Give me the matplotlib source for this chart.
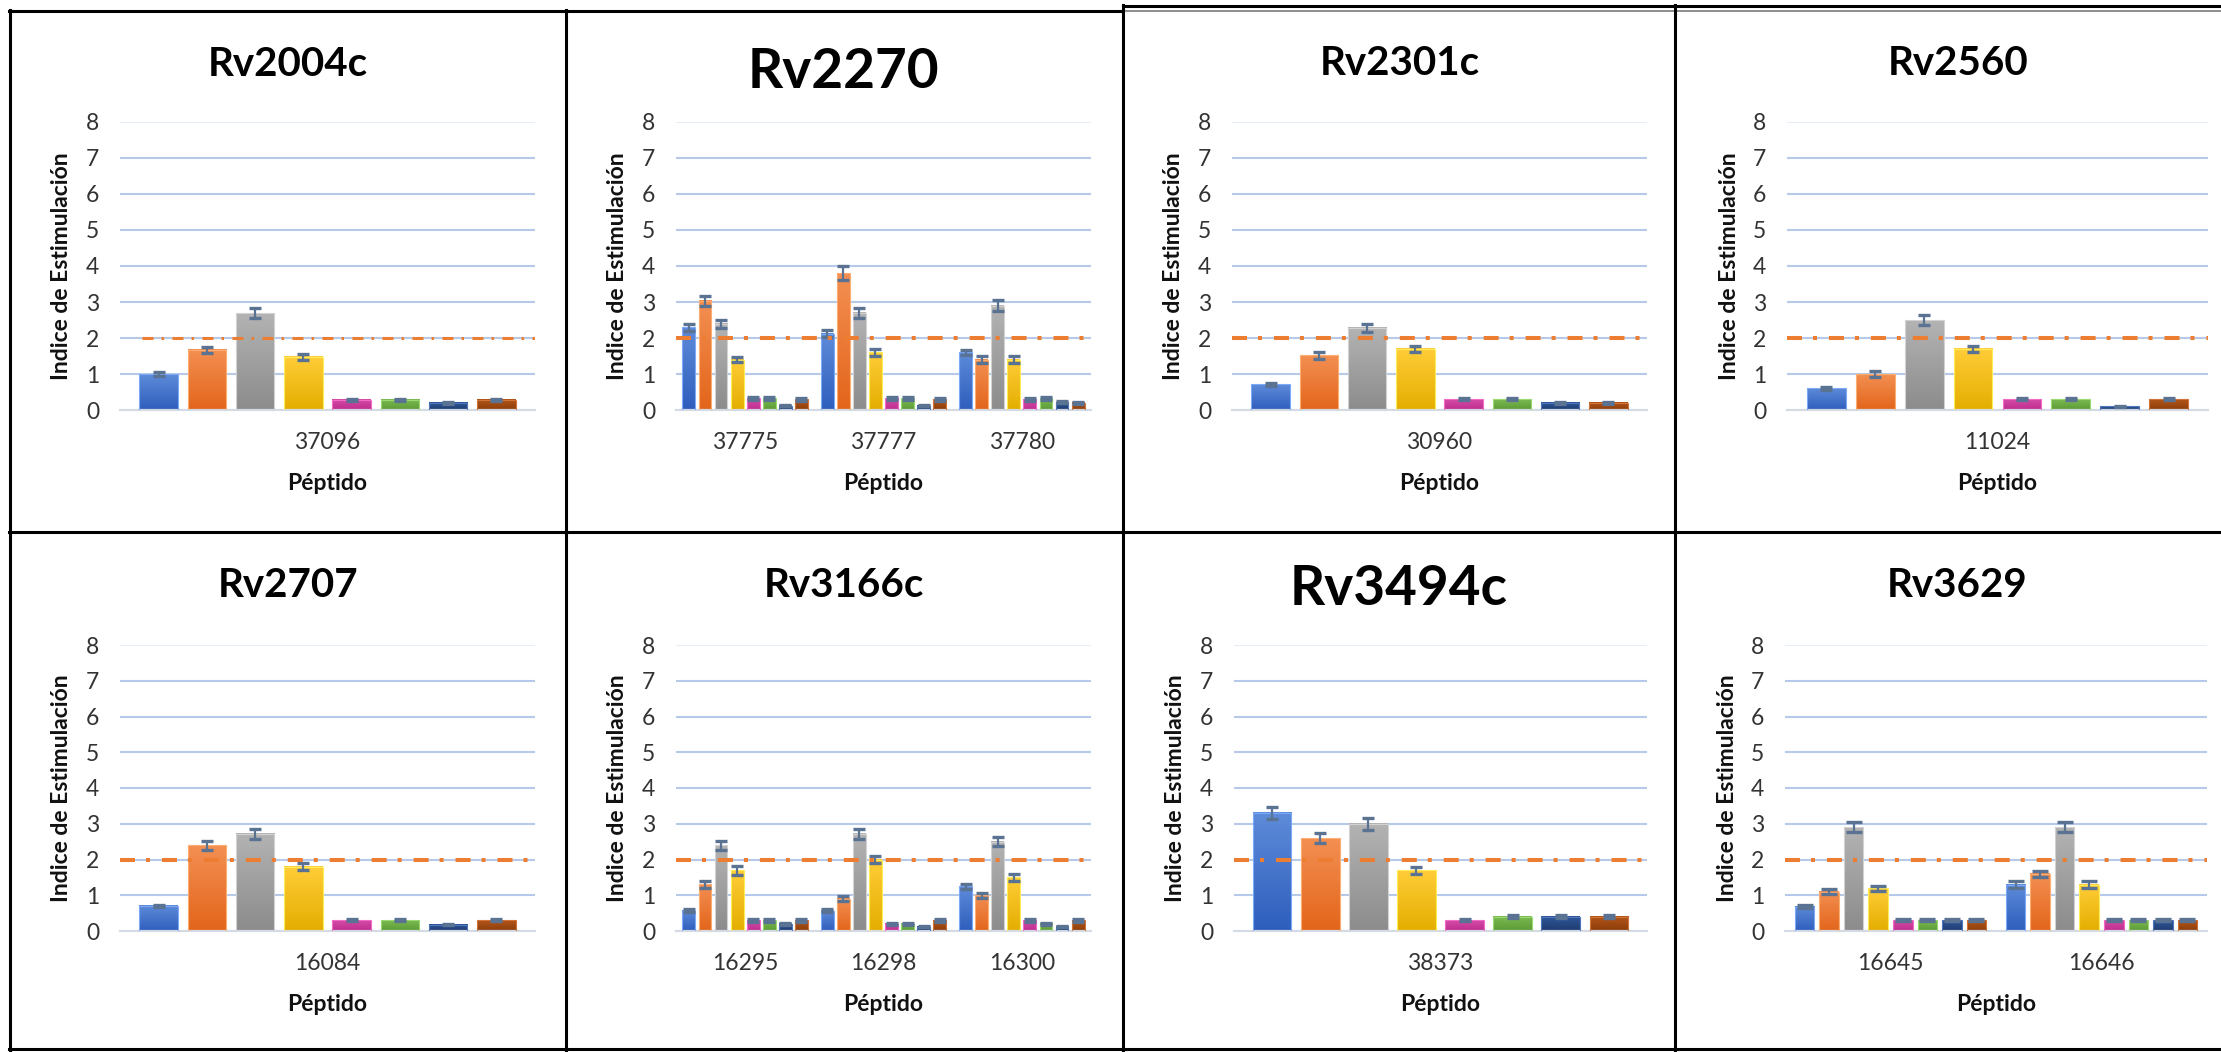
import numpy as np
import matplotlib
matplotlib.use("Agg")
import matplotlib.pyplot as plt
from matplotlib.colors import to_rgb
from matplotlib.lines import Line2D

plt.rcParams['font.family'] = ['Lato', 'DejaVu Sans']
plt.rcParams['lines.scale_dashes'] = False

W, H = 2221, 1052
DPI = 100

# ---- data: stimulation index (mean and error) per peptide, 8 groups each ----
titles = ["Rv2004c", "Rv2270", "Rv2301c", "Rv2560",
          "Rv2707", "Rv3166c", "Rv3494c", "Rv3629"]

rv2004c_pep = ["37096"]
rv2004c_si = [[1.00, 1.67, 2.69, 1.48, 0.28, 0.28, 0.20, 0.28]]
rv2004c_err = [[0.05, 0.08, 0.14, 0.08, 0.03, 0.03, 0.02, 0.03]]

rv2270_pep = ["37775", "37777", "37780"]
rv2270_si = [[2.30, 3.03, 2.40, 1.40, 0.32, 0.32, 0.12, 0.30],
             [2.12, 3.80, 2.70, 1.60, 0.32, 0.32, 0.12, 0.30],
             [1.60, 1.40, 2.90, 1.40, 0.30, 0.32, 0.22, 0.20]]
rv2270_err = [[0.10, 0.15, 0.11, 0.08, 0.04, 0.04, 0.02, 0.04],
              [0.10, 0.19, 0.14, 0.10, 0.04, 0.04, 0.02, 0.04],
              [0.08, 0.09, 0.16, 0.09, 0.04, 0.04, 0.03, 0.03]]

rv2301c_pep = ["30960"]
rv2301c_si = [[0.72, 1.52, 2.28, 1.70, 0.30, 0.30, 0.20, 0.20]]
rv2301c_err = [[0.04, 0.09, 0.11, 0.08, 0.03, 0.03, 0.02, 0.03]]

rv2560_pep = ["11024"]
rv2560_si = [[0.60, 1.00, 2.50, 1.70, 0.30, 0.30, 0.10, 0.30]]
rv2560_err = [[0.04, 0.07, 0.14, 0.08, 0.03, 0.03, 0.02, 0.03]]

rv2707_pep = ["16084"]
rv2707_si = [[0.70, 2.40, 2.72, 1.80, 0.30, 0.30, 0.18, 0.30]]
rv2707_err = [[0.04, 0.13, 0.14, 0.10, 0.03, 0.03, 0.02, 0.03]]

rv3166c_pep = ["16295", "16298", "16300"]
rv3166c_si = [[0.57, 1.31, 2.40, 1.70, 0.30, 0.30, 0.20, 0.30],
              [0.57, 0.90, 2.72, 2.00, 0.20, 0.20, 0.12, 0.30],
              [1.25, 1.00, 2.50, 1.50, 0.30, 0.20, 0.12, 0.30]]
rv3166c_err = [[0.04, 0.10, 0.13, 0.12, 0.04, 0.04, 0.02, 0.04],
               [0.04, 0.07, 0.14, 0.11, 0.03, 0.03, 0.02, 0.04],
               [0.07, 0.07, 0.12, 0.10, 0.04, 0.03, 0.02, 0.04]]

rv3494c_pep = ["38373"]
rv3494c_si = [[3.31, 2.60, 3.00, 1.70, 0.30, 0.40, 0.40, 0.40]]
rv3494c_err = [[0.17, 0.14, 0.17, 0.10, 0.03, 0.04, 0.04, 0.04]]

rv3629_pep = ["16645", "16646"]
rv3629_si = [[0.68, 1.10, 2.90, 1.20, 0.30, 0.30, 0.30, 0.30],
             [1.30, 1.60, 2.90, 1.30, 0.30, 0.30, 0.30, 0.30]]
rv3629_err = [[0.04, 0.07, 0.14, 0.07, 0.03, 0.03, 0.03, 0.03],
              [0.09, 0.09, 0.14, 0.09, 0.03, 0.03, 0.03, 0.03]]

y_ticks = [0, 1, 2, 3, 4, 5, 6, 7, 8]
threshold = 2.0

# ---- styling ----
# gradient fills per group: (top colour, bottom colour)
grad_colors = [("#5e8bd9", "#2e5ebd"),
               ("#f38f52", "#e3651b"),
               ("#b3b3b3", "#8c8c8c"),
               ("#ffcd38", "#e4ae00"),
               ("#d44ba8", "#bf2d8d"),
               ("#7cbb52", "#5b9a35"),
               ("#30589c", "#1e3b6e"),
               ("#b2551a", "#8d3d0a")]
ERR_C = "#5a7393"
GRID_C = "#b7c9e8"
THR_C = "#ED7D31"
TICK_C = "#333333"
PITCH = 0.1163
BARW = 0.0925


def frac_rect(l, top, r, bottom):
    return [l / W, 1 - bottom / H, (r - l) / W, (bottom - top) / H]


def gradient(top, bottom, n=64):
    t = np.linspace(0, 1, n)[:, None]
    c0 = np.array(to_rgb(top))
    c1 = np.array(to_rgb(bottom))
    return (c0 * (1 - t) + c1 * t)[:, None, :]


grads = [gradient(a, b) for a, b in grad_colors]
edges = [tuple(min(1, v + 0.12) for v in to_rgb(a)) for a, _ in grad_colors]

fig = plt.figure(figsize=(W / DPI, H / DPI), dpi=DPI)
fig.patch.set_facecolor("white")

# panel layout in pixels: axes (left, top, right, bottom), title centre x,
# title baseline y, title size, threshold line start, dash pattern, line width, cap size
panels = [
    (rv2004c_pep, rv2004c_si, rv2004c_err, (120, 122, 535, 410), 288, 76, 29, 0.052, (7.9, 5.8, 1.8, 6.1), 2.2, 4.5),
    (rv2270_pep, rv2270_si, rv2270_err, (676, 122, 1091, 410), 843, 88, 39.5, 0.0, (10.8, 7.9, 2.9, 8.6), 2.9, 4.5),
    (rv2301c_pep, rv2301c_si, rv2301c_err, (1232, 122, 1647, 410), 1400, 75, 29, 0.0, (10.8, 7.9, 2.9, 8.6), 2.9, 4.5),
    (rv2560_pep, rv2560_si, rv2560_err, (1787, 122, 2208, 410), 1958, 75, 29, 0.0, (10.8, 7.9, 2.9, 8.6), 2.9, 4.5),
    (rv2707_pep, rv2707_si, rv2707_err, (120, 645, 535, 931), 288, 597, 29, 0.0, (10.8, 7.9, 2.9, 8.6), 2.9, 4.5),
    (rv3166c_pep, rv3166c_si, rv3166c_err, (676, 645, 1091, 931), 844, 597, 29, 0.0, (10.8, 7.9, 2.9, 8.6), 2.9, 4.5),
    (rv3494c_pep, rv3494c_si, rv3494c_err, (1234, 645, 1647, 931), 1399, 605, 39.5, 0.0, (10.8, 7.9, 2.9, 8.6), 2.9, 4.5),
    (rv3629_pep, rv3629_si, rv3629_err, (1785, 645, 2207, 931), 1957, 597, 29, 0.0, (10.8, 7.9, 2.9, 8.6), 2.9, 6.0),
]

for title, (peps, si, err, (l, t, r, b), tcx, tby, tsize, thr_start, dash, thr_lw, cap) in zip(titles, panels):
    ax = fig.add_axes(frac_rect(l, t, r, b))
    axw, axh = r - l, b - t
    n = len(peps)
    xs = np.arange(n)
    offsets = (np.arange(8) - 3.5) * PITCH

    for j in range(8):
        vals = [row[j] for row in si]
        errs = [row[j] for row in err]
        bars = ax.bar(xs + offsets[j], vals, width=BARW, facecolor="none",
                      edgecolor=edges[j], linewidth=0.8, zorder=3)
        for bar in bars:
            x0, w, h = bar.get_x(), bar.get_width(), bar.get_height()
            ax.imshow(grads[j], extent=(x0, x0 + w, 0, h), aspect="auto",
                      interpolation="bilinear", zorder=2)
        ax.errorbar(xs + offsets[j], vals, yerr=errs, fmt="none", ecolor=ERR_C,
                    elinewidth=1.6, capsize=cap, capthick=2.4, zorder=4)

    ax.set_xlim(-0.5, n - 0.5)
    ax.set_ylim(0, 8)
    ax.set_aspect("auto")

    # horizontal gridlines
    for yv in y_ticks[1:]:
        ax.axhline(yv, color="#e6edf8" if yv == 8 else GRID_C, lw=1.5, zorder=1)

    ax.axhline(threshold, xmin=thr_start, xmax=1, color=THR_C, lw=thr_lw,
               linestyle=(0, dash), dash_capstyle="butt", zorder=5)

    for side in ("top", "right", "left"):
        ax.spines[side].set_visible(False)
    ax.spines["bottom"].set_color("#d5dbe5")
    ax.spines["bottom"].set_linewidth(1.6)

    ax.set_yticks(y_ticks)
    ax.set_xticks(xs)
    ax.set_xticklabels(peps)
    ax.tick_params(axis="both", length=0, labelsize=16.5, colors=TICK_C)
    ax.tick_params(axis="y", pad=15)
    ax.tick_params(axis="x", pad=16)

    ax.text(-58 / axw, 0.5, "Indice de Estimulación", rotation=90,
            ha="center", va="center", transform=ax.transAxes,
            fontsize=16.5, fontweight="bold", color="#111111")
    ax.text(0.5, -80 / axh, "Péptido", ha="center", va="baseline",
            transform=ax.transAxes, fontsize=16.5, fontweight="bold",
            color="#111111")

    fig.text(tcx / W, 1 - tby / H, title, ha="center", va="baseline",
             fontsize=tsize, fontweight="bold", color="black")


# ---- table borders around the panels ----
def hline(y, x0, x1, color="black", lw=2.2):
    fig.add_artist(Line2D([x0 / W, x1 / W], [1 - y / H, 1 - y / H],
                          color=color, lw=lw, transform=fig.transFigure))


def vline(x, y0, y1, color="black", lw=2.2):
    fig.add_artist(Line2D([x / W, x / W], [1 - y0 / H, 1 - y1 / H],
                          color=color, lw=lw, transform=fig.transFigure))


hline(11, 9, 1123)
hline(6, 1123, W)
hline(11, 1123, W, color="#7a7a7a", lw=1.2)
hline(531.5, 9, W)
hline(1049, 9, W)
vline(10, 10, 1050)
vline(565.5, 10, 1050)
vline(1123, 5, 1050)
vline(1675, 5, 1050)

fig.savefig("out.png", dpi=DPI, facecolor="white")
